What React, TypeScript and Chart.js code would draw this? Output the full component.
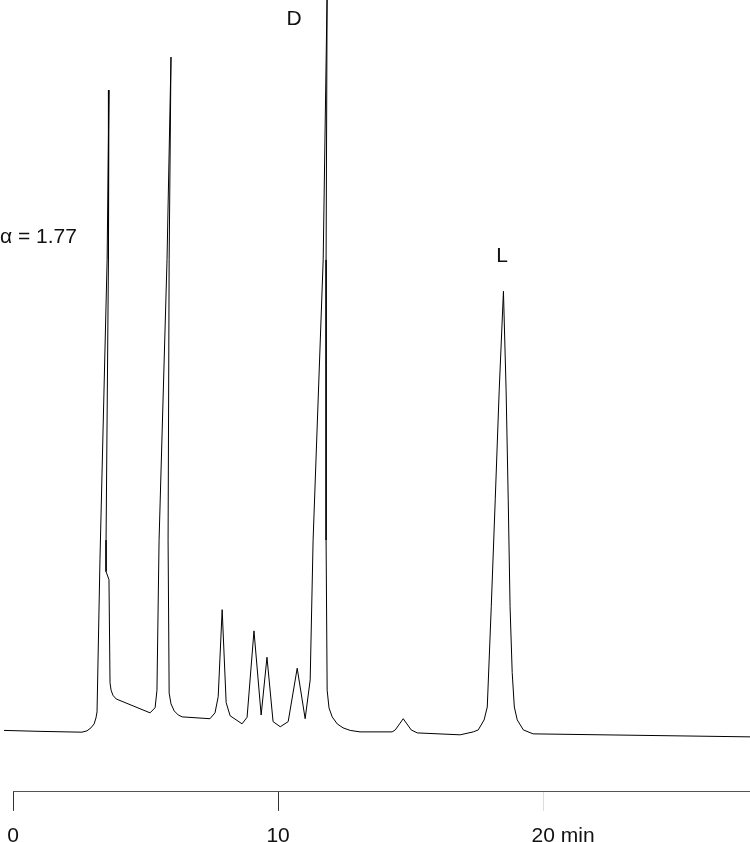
import React, { useEffect, useRef } from "react";
import { Chart, registerables } from "chart.js";

Chart.register(...registerables);

// retention time (min) and detector signal (baseline = 0, full frame = 100)
const times = [
  -0.34, 1.02, 2.6, 2.79, 2.94, 3.06, 3.13, 3.17, 3.28, 3.55, 3.62, 3.6, 3.51, 3.51, 3.62,
  3.66, 3.7, 3.77, 3.89,
  5.17, 5.36, 5.43, 5.51, 5.81, 5.96, 5.89, 5.85, 5.89, 5.96, 6.08, 6.23, 6.38, 7.43, 7.62,
  7.74, 7.89,
  8.04, 8.19, 8.64, 8.83, 9.09, 9.36, 9.58, 9.81, 10.08, 10.38, 10.72, 11.02, 11.21, 11.32,
  11.7, 11.85, 11.81, 11.81, 11.85, 11.92, 12.04, 12.23, 12.45, 12.72, 13.09, 14.3, 14.42,
  14.72, 15.02, 15.25,
  16.87, 17.36, 17.55, 17.77, 17.89, 18.04, 18.19, 18.34, 18.5, 18.6, 18.68, 18.75, 18.83,
  18.91, 19.02, 19.25, 19.62, 27.81,
];
const signal = [
  0.2, 0.07, -0.04, 0.14, 0.55, 1.09, 1.91, 2.73, 23.5, 64.5, 87.7, 64.5, 26.2, 21.9, 20.8,
  6.7, 5.7, 5.0, 4.5,
  2.6, 3.3, 5.7, 26.2, 64.5, 92.2, 64.5, 26.2, 5.3, 3.83, 2.87, 2.32, 2.05, 1.8, 2.6,
  4.8, 16.7,
  4.0, 2.2, 1.1, 2.0, 13.8, 2.3, 10.2, 1.4, 0.7, 1.4, 8.7, 1.8, 7.1, 26.2,
  64.5, 101.4, 64.5, 26.2, 5.7, 3.28, 2.05, 1.09, 0.55, 0.2, 0.0, 0.0, 0.27,
  1.8, 0.27, -0.14,
  -0.4, 0.0, 0.27, 1.64, 3.4, 17.1, 31.7, 46.7, 60.2, 46.7, 31.7, 17.1, 8.1,
  3.4, 1.64, 0.27, -0.27, -0.68,
];

const tickValues = [0, 10, 20];
const tickLabels = ["0", "10", "20"];
const xUnit = "min";

const peakLabels = [
  { text: "α = 1.77", x: -0.49, y: 67.6, align: "left" },
  { text: "D", x: 10.6, y: 97.4, align: "center" },
  { text: "L", x: 18.45, y: 65.0, align: "center" },
];

const FONT_FAMILY = '"Liberation Sans", Arial, sans-serif';
const FONT = "21px " + FONT_FAMILY;
const TICK_LEN = 19;
const TICK_PAD = 3;
const LINE_H = 2.1;

const labelsPlugin = {
  id: "peakLabels",
  afterDraw(chart) {
    const { ctx, scales } = chart;
    const xs = scales.x;
    const ys = scales.y;
    ctx.save();
    ctx.font = FONT;
    ctx.fillStyle = "#111";
    ctx.textBaseline = "middle";
    peakLabels.forEach((p) => {
      ctx.textAlign = p.align;
      ctx.fillText(p.text, xs.getPixelForValue(p.x), ys.getPixelForValue(p.y));
    });
    // unit after the last tick label
    const last = tickValues[tickValues.length - 1];
    const w = ctx.measureText(tickLabels[tickLabels.length - 1]).width;
    ctx.textAlign = "left";
    ctx.fillText(
      " " + xUnit,
      xs.getPixelForValue(last) + w / 2,
      xs.top + TICK_LEN + TICK_PAD + (21 * LINE_H) / 2
    );
    ctx.restore();
  },
};

export default function App() {
  const canvasRef = useRef(null);

  useEffect(() => {
    const chart = new Chart(canvasRef.current, {
      type: "line",
      data: {
        datasets: [
          {
            data: times.map((t, i) => ({ x: t, y: signal[i] })),
            borderColor: "#000",
            borderWidth: 1,
            pointRadius: 0,
            tension: 0,
            borderJoinStyle: "round",
            clip: { left: 20, top: 0, right: 0, bottom: 0 },
          },
        ],
      },
      options: {
        responsive: false,
        animation: false,
        layout: { padding: { left: 13, right: 0, top: 0, bottom: 0 } },
        plugins: { legend: { display: false }, tooltip: { enabled: false } },
        scales: {
          x: {
            type: "linear",
            min: 0,
            max: 27.8,
            afterBuildTicks: (scale) => {
              scale.ticks = tickValues.map((v) => ({ value: v }));
            },
            grid: {
              drawOnChartArea: false,
              drawTicks: true,
              tickLength: TICK_LEN,
              color: (c) => (c.index === 2 ? "#dcdcdc" : "#333"),
            },
            border: { display: true, color: "#555", width: 1 },
            ticks: {
              padding: TICK_PAD,
              color: "#111",
              maxRotation: 0,
              font: { family: FONT_FAMILY, size: 21, lineHeight: LINE_H },
              callback: (v) => tickLabels[tickValues.indexOf(v)] ?? "",
            },
          },
          y: { display: false, min: -8.2, max: 100 },
        },
      },
      plugins: [labelsPlugin],
    });
    return () => chart.destroy();
  }, []);

  return (
    <div style={{ position: "fixed", left: 0, top: 0, width: 750, height: 861, background: "#fff" }}>
      <canvas ref={canvasRef} width={750} height={861} style={{ width: 750, height: 861 }} />
    </div>
  );
}
